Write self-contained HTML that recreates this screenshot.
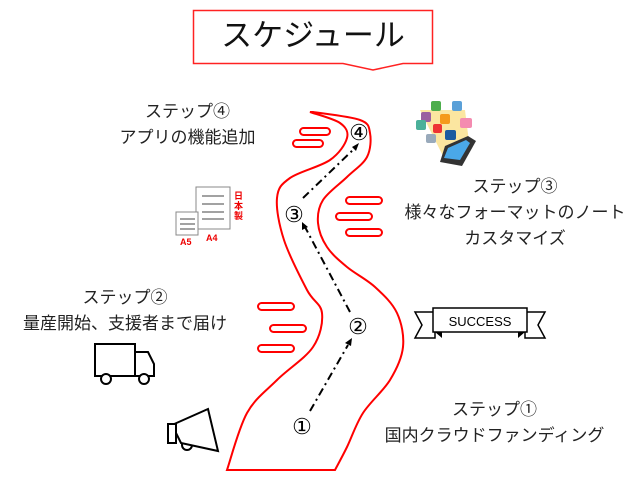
<!DOCTYPE html>
<html><head><meta charset="utf-8"><style>
body{margin:0;width:640px;height:480px;background:#fff;overflow:hidden;position:relative;font-family:"Liberation Sans","Noto Sans CJK JP",sans-serif;}
.t{position:absolute;font-size:17px;color:#222;white-space:nowrap;text-align:center;line-height:26px;}
</style></head><body>
<svg width="640" height="480" style="position:absolute;left:0;top:0">
<path d="M193.5 10.5 H432.5 V63.5 H403 L373 70 L343 63.5 H193.5 Z" fill="#fff" stroke="#f22" stroke-width="1.5"/>
<path id="road" d="" fill="#fff" stroke="#f00" stroke-width="2"/>
<g fill="none" stroke="#f00" stroke-width="2">
<rect x="300" y="128" width="30" height="7" rx="3.5"/>
<rect x="293" y="140" width="30" height="7" rx="3.5"/>
<rect x="346" y="197" width="36" height="7" rx="3.5"/>
<rect x="336" y="213" width="36" height="7" rx="3.5"/>
<rect x="346" y="229" width="36" height="7" rx="3.5"/>
<rect x="258" y="303" width="36" height="7" rx="3.5"/>
<rect x="270" y="325" width="36" height="7" rx="3.5"/>
<rect x="258" y="345" width="36" height="7" rx="3.5"/>
</g>
<g stroke="#000" stroke-width="2" fill="none" stroke-dasharray="8 4 2 4">
<path d="M310 411 L348 345"/>
<path d="M350 312 L305 227"/>
<path d="M303 198 L355 148"/>
</g>
<g fill="#000">
<path d="M352 338 L345 343 L351 346 Z"/>
<path d="M302 222 L302 230 L308 227 Z"/>
<path d="M359 143 L352 147 L356 151 Z"/>
</g>
<g font-family="Liberation Serif,serif" font-size="22" fill="#000" text-anchor="middle">
<text x="302" y="434">①</text><text x="358" y="334">②</text><text x="294" y="222">③</text><text x="359" y="140">④</text>
</g>
<rect x="196" y="187" width="34" height="42" fill="#fff" stroke="#888"/>
<rect x="176" y="212" width="22" height="23" fill="#fff" stroke="#888"/>
<g stroke="#444"><line x1="180" y1="219" x2="195" y2="219"/><line x1="180" y1="224" x2="195" y2="224"/><line x1="180" y1="229" x2="195" y2="229"/>
<line x1="202" y1="196" x2="224" y2="196"/><line x1="202" y1="204" x2="224" y2="204"/><line x1="202" y1="212" x2="224" y2="212"/><line x1="202" y1="219" x2="224" y2="219"/></g>
<g fill="#e00" font-size="9" font-weight="bold"><text x="180" y="245">A5</text><text x="206" y="241">A4</text>
<text x="234" y="199">日</text><text x="234" y="209">本</text><text x="234" y="219">製</text></g>
<path d="M420 110 L465 110 L470 150 L445 160 Z" fill="#fbe6a0"/>
<rect x="421" y="112" width="10" height="10" rx="2" fill="#9a5fa0"/>
<rect x="431" y="101" width="10" height="10" rx="2" fill="#4cae4c"/>
<rect x="452" y="101" width="10" height="10" rx="2" fill="#5aa0d8"/>
<rect x="416" y="120" width="10" height="10" rx="2" fill="#4bb09a"/>
<rect x="440" y="114" width="10" height="10" rx="2" fill="#f59a1a"/>
<rect x="460" y="118" width="12" height="10" rx="2" fill="#f48bb0"/>
<rect x="433" y="124" width="9" height="9" rx="2" fill="#e33"/>
<rect x="426" y="134" width="10" height="9" rx="2" fill="#9ab"/>
<rect x="445" y="130" width="11" height="10" rx="2" fill="#1a5aa0"/>
<path d="M445 146 L468 136 L476 141 L462 166 L440 162 Z" fill="#333"/>
<path d="M448 148 L466 140 L470 143 L460 160 L444 158 Z" fill="#4aa8e8"/>
<g stroke="#000" stroke-width="1.5" fill="#fff">
<path d="M415 312 L435 312 L435 338 L415 338 L422 325 Z"/>
<path d="M545 312 L525 312 L525 338 L545 338 L538 325 Z"/>
<rect x="433" y="308" width="94" height="24"/>
</g>
<path d="M435 332 L442 338 L442 332 Z M525 332 L518 338 L518 332 Z" fill="#000"/>
<text x="480" y="326" font-size="13" text-anchor="middle" fill="#000">SUCCESS</text>
<g stroke="#000" stroke-width="2" fill="#fff">
<rect x="95" y="344" width="40" height="32"/>
<path d="M135 352 L148 352 L154 364 L154 376 L135 376 Z"/>
<circle cx="106" cy="379" r="5"/><circle cx="144" cy="379" r="5"/>
</g>
<g stroke="#000" stroke-width="2" fill="#fff">
<circle cx="187" cy="445" r="5"/>
<path d="M172 425 L208 409 L218 451 L181 443 Z"/>
<rect x="168" y="424" width="8" height="19"/>
</g>
</svg>
<script>
(function(){
var L=[[310,112],[340,123],[347,138],[330,160],[290,178],[277,198],[284,240],[307,290],[322,313],[313,347],[277,380],[247,413],[227,470]];
var R=[[335,470],[347,447],[363,413],[390,380],[403,347],[397,313],[375,287],[347,267],[327,247],[318,223],[323,200],[347,177],[367,157],[370,133],[360,120],[313,112]];
function cr(p){var d="";for(var i=0;i<p.length-1;i++){var p0=p[i-1]||p[i],p1=p[i],p2=p[i+1],p3=p[i+2]||p2;
var c1=[p1[0]+(p2[0]-p0[0])/6,p1[1]+(p2[1]-p0[1])/6],c2=[p2[0]-(p3[0]-p1[0])/6,p2[1]-(p3[1]-p1[1])/6];
d+=" C"+c1+" "+c2+" "+p2;}return d;}
var d="M"+L[0]+cr(L)+" L"+R[0]+cr(R)+" Z";
document.getElementById("road").setAttribute("d",d);
})();
</script>
<div style="position:absolute;left:193px;top:12px;width:240px;text-align:center;font-size:31px;line-height:48px;color:#111">スケジュール</div>
<div class="t" style="left:100px;top:99px;width:175px">ステップ④<br>アプリの機能追加</div>
<div class="t" style="left:395px;top:174px;width:240px">ステップ③<br>様々なフォーマットのノート<br>カスタマイズ</div>
<div class="t" style="left:10px;top:285px;width:230px">ステップ②<br>量産開始、支援者まで届け</div>
<div class="t" style="left:372px;top:397px;width:245px">ステップ①<br>国内クラウドファンディング</div>
</body></html>
